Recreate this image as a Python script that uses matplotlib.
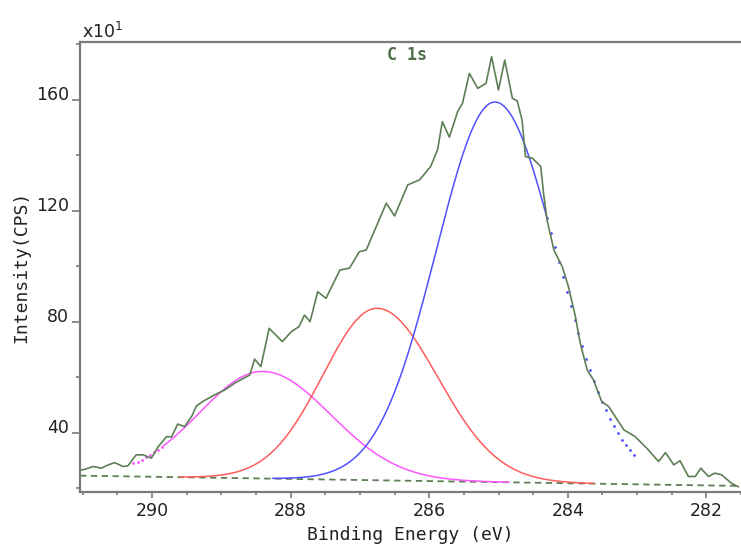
import matplotlib
matplotlib.use("Agg")
import matplotlib.pyplot as plt
import numpy as np

# raw C 1s spectrum (binding energy eV, counts x10)
be = [291.06, 290.97, 290.85, 290.73, 290.66, 290.54, 290.42, 290.35, 290.23, 290.13,
      290.01, 289.91, 289.79, 289.72, 289.63, 289.53, 289.43, 289.36, 289.27, 289.10,
      288.95, 288.81, 288.59, 288.52, 288.43, 288.31, 288.12, 287.99, 287.88, 287.80,
      287.72, 287.61, 287.49, 287.29, 287.15, 287.01, 286.91, 286.62, 286.50, 286.31,
      286.14, 285.98, 285.88, 285.81, 285.71, 285.59, 285.52, 285.42, 285.30, 285.18,
      285.10, 285.00, 284.91, 284.80, 284.73, 284.66, 284.61, 284.51, 284.39, 284.35,
      284.30, 284.20, 284.08, 283.99, 283.89, 283.82, 283.72, 283.63, 283.51, 283.41,
      283.19, 283.03, 282.86, 282.69, 282.59, 282.47, 282.38, 282.26, 282.16, 282.08,
      281.97, 281.88, 281.78, 281.64, 281.54]
counts = [26.4, 26.9, 27.9, 27.3, 28.2, 29.3, 27.9, 28.1, 32.1, 32.1,
          30.9, 35.1, 38.7, 38.5, 43.2, 42.3, 45.9, 49.7, 51.3, 53.7,
          55.5, 57.9, 60.9, 66.6, 63.9, 77.7, 72.9, 76.5, 78.3, 82.5,
          80.1, 90.9, 88.5, 98.7, 99.4, 105.3, 105.9, 122.8, 118.2, 129.4,
          131.2, 136.0, 142.0, 152.2, 146.6, 155.8, 158.8, 169.6, 164.2, 166.0,
          175.6, 163.6, 174.4, 160.6, 159.7, 152.8, 139.6, 139.0, 136.0, 126.4,
          116.8, 105.9, 99.9, 92.7, 81.9, 72.3, 62.7, 59.1, 51.3, 49.5,
          41.1, 38.7, 34.5, 29.7, 32.9, 28.5, 30.0, 24.3, 24.3, 27.3,
          24.3, 25.5, 24.9, 21.9, 20.6]

# linear background end points
bg_be = [291.04, 281.53]
bg_val = [24.6, 20.9]

# fitted components, widths on high and low BE side
comp_center = [288.40, 286.75, 285.05]
comp_height = [38.6, 62.0, 137.0]
comp_fwhm_hi = [2.15, 1.85, 2.00]
comp_fwhm_lo = [2.30, 2.05, 2.08]
comp_start = [289.85, 289.60, 288.26]
comp_end = [284.85, 283.63, 284.30]
comp_colors = ['#ff55ff', '#ff5c5c', '#5050ff']

# dotted parts of the component curves
dot_start = [290.27, None, 284.30]
dot_end = [289.85, None, 283.05]

green = '#5d7f55'
axis_grey = '#7a7a7a'
text_col = '#222222'


def background(x):
    return np.interp(x, bg_be[::-1], bg_val[::-1])


def component(x, i):
    w = np.where(x > comp_center[i], comp_fwhm_hi[i], comp_fwhm_lo[i])
    return background(x) + comp_height[i] * np.exp(-4 * np.log(2) * (x - comp_center[i]) ** 2 / w ** 2)


fig = plt.figure(figsize=(7.41, 5.49), dpi=100)
ax = fig.add_axes([0.108, 0.1038, 0.892, 0.8197])

ax.plot(bg_be, bg_val, color=green, lw=1.3, ls=(0, (3.5, 2.5)))

for i in range(3):
    x = np.linspace(comp_start[i], comp_end[i], 300)
    ax.plot(x, component(x, i), color=comp_colors[i], lw=1.1)
    if dot_start[i] is not None:
        n = int(abs(dot_start[i] - dot_end[i]) / 0.055) + 1
        xd = np.linspace(dot_start[i], dot_end[i], n)
        ax.plot(xd, component(xd, i), ls='none', marker='.', ms=2, color=comp_colors[i])

ax.plot(be, counts, color=green, lw=1.2)

ax.set_xlim(291.04, 281.53)
ax.set_ylim(18.7, 180.9)

ax.set_xticks([290, 288, 286, 284, 282])
ax.set_xticks(np.arange(281.5, 291.1, 0.5), minor=True)
ax.set_yticks([40, 80, 120, 160])
ax.set_yticks([20, 60, 100, 140, 180], minor=True)

for side in ['left', 'bottom', 'top']:
    ax.spines[side].set_color(axis_grey)
    ax.spines[side].set_linewidth(1.6)
ax.spines['right'].set_visible(False)

ax.tick_params(which='both', width=1.2, color=axis_grey, labelsize=12.5, labelcolor=text_col)
ax.xaxis.set_tick_params(which='major', length=4.5, pad=3)
ax.xaxis.set_tick_params(which='minor', length=2.5)
ax.yaxis.set_tick_params(which='major', length=6, pad=2)
ax.yaxis.set_tick_params(which='minor', length=3)
for lab in ax.get_yticklabels():
    lab.set_va('baseline')

ax.set_xlabel('Binding Energy (eV)', family='DejaVu Sans Mono', fontsize=13,
              color=text_col, labelpad=4)
ax.set_ylabel('Intensity(CPS)', family='DejaVu Sans Mono', fontsize=13,
              color=text_col, labelpad=4)

ax.text(0.003, 1.0, 'x10$^{1}$', transform=ax.transAxes, ha='left', va='bottom',
        fontsize=12.5, color=text_col)
ax.text(0.495, 0.99, 'C 1s', transform=ax.transAxes, ha='center', va='top',
        family='DejaVu Sans Mono', fontweight='bold', fontsize=12, color='#4e6e48')

fig.savefig('out.png', dpi=100)
